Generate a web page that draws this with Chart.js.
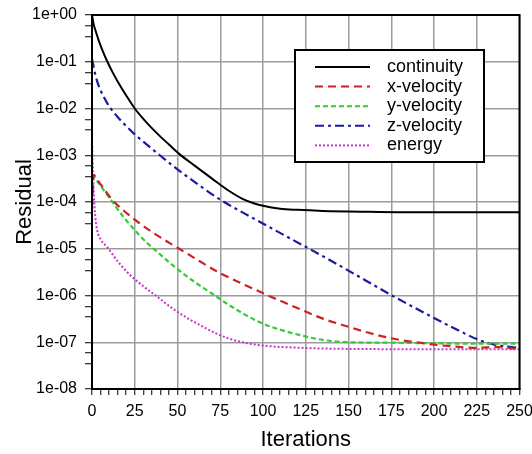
<!DOCTYPE html>
<html>
<head>
<meta charset="utf-8">
<script src="https://cdn.jsdelivr.net/npm/chart.js@4.4.0/dist/chart.umd.min.js"></script>
<style>
  html, body { margin: 0; padding: 0; background: #fff; }
</style>
</head>
<body>
<canvas id="resid" width="532" height="454"></canvas>
<script>
// residual history
var contIter = [0, 1, 2, 4, 6, 9, 12, 15, 20, 25, 30, 35, 40, 45, 51, 60, 70, 80, 88, 95, 100, 110, 120, 135, 160, 200, 250];
var contRes  = [1.0, 0.63, 0.47, 0.28, 0.18, 0.1, 0.06, 0.038, 0.019, 0.01, 0.006, 0.0038, 0.0025, 0.0017, 0.00107,
                6e-4, 3.2e-4, 1.74e-4, 1.17e-4, 9.3e-5, 8.3e-5, 7.2e-5, 6.8e-5, 6.45e-5, 6.2e-5, 6.0e-5, 6.0e-5];

var xvIter = [0, 1, 3, 6, 9, 12.5, 18, 25, 35, 45, 51, 63, 75, 88, 103, 120, 135, 150, 165, 180, 190, 200, 212, 225, 237, 250];
var xvRes  = [8e-5, 3.8e-4, 3.0e-4, 2.14e-4, 1.51e-4, 1.05e-4, 6.8e-5, 4.2e-5, 2.3e-5, 1.35e-5, 1.0e-5, 5.4e-6, 3.0e-6,
              1.78e-6, 1.0e-6, 5.4e-7, 3.2e-7, 2.14e-7, 1.48e-7, 1.12e-7, 1.0e-7, 8.9e-8, 8.1e-8, 7.6e-8, 7.9e-8, 7.1e-8];

var yvIter = [0, 1, 3, 6, 9, 12, 18, 25, 32, 38, 45, 52, 60, 71, 80, 90, 100, 110, 122, 135, 150, 175, 200, 225, 250];
var yvRes  = [6.3e-5, 3.5e-4, 2.8e-4, 2.0e-4, 1.41e-4, 1.0e-4, 5.0e-5, 2.5e-5, 1.35e-5, 8.7e-6, 5.2e-6, 3.2e-6, 1.95e-6,
              1.05e-6, 6.3e-7, 3.8e-7, 2.5e-7, 1.86e-7, 1.41e-7, 1.12e-7, 1.0e-7, 9.8e-8, 9.5e-8, 9.3e-8, 9.3e-8];

var zvIter = [0, 2, 4, 7, 10, 15, 20, 25, 30, 38, 50, 63, 75, 88, 101, 117, 139, 160, 174, 200, 215, 225, 232, 240, 250];
var zvRes  = [0.115, 0.052, 0.030, 0.0174, 0.0112, 0.0066, 0.0042, 0.0028, 0.00195, 0.00112, 5e-4, 2.24e-4, 1.12e-4,
              6.0e-5, 3.3e-5, 1.58e-5, 5.75e-6, 2.1e-6, 1.07e-6, 3.3e-7, 1.74e-7, 1.17e-7, 9.5e-8, 8.3e-8, 7.6e-8];

var enIter = [0, 1, 2, 3, 5, 9, 15, 22, 30, 38, 45, 52, 58, 65, 72, 80, 88, 100, 122, 150, 200, 250];
var enRes  = [1.9e-3, 1.6e-4, 4.5e-5, 2.5e-5, 1.6e-5, 1.07e-5, 5.4e-6, 2.8e-6, 1.58e-6, 9.5e-7, 6.0e-7, 4.0e-7, 2.95e-7,
              2.14e-7, 1.58e-7, 1.2e-7, 1.0e-7, 8.5e-8, 7.6e-8, 7.2e-8, 7.1e-8, 7.1e-8];

var seriesNames = ['continuity', 'x-velocity', 'y-velocity', 'z-velocity', 'energy'];

function pts(it, res) {
    return it.map(function (x, i) { return { x: x, y: res[i] }; });
}

var FONT = 'Liberation Sans, Arial, sans-serif';

function isDecade(v) {
    var l = Math.log10(v);
    return Math.abs(l - Math.round(l)) < 1e-6;
}

function expLabel(v) {
    var n = Math.round(Math.log10(v));
    var a = Math.abs(n);
    return '1e' + (n < 0 ? '-' : '+') + (a < 10 ? '0' : '') + a;
}

// boxed legend inside the plot, top right
var boxLegend = {
    id: 'boxLegend',
    afterDraw: function (chart) {
        var c = chart.ctx;
        var area = chart.chartArea;
        // frame around the plot
        c.save();
        c.strokeStyle = '#000';
        c.lineWidth = 2;
        c.strokeRect(area.left, area.top, area.right - area.left, area.bottom - area.top);

        var bx = 295, by = 50, bw = 189, bh = 112;
        c.fillStyle = '#fff';
        c.fillRect(bx, by, bw, bh);
        c.strokeRect(bx, by, bw, bh);
        c.font = '18px ' + FONT;
        c.textBaseline = 'middle';
        c.textAlign = 'left';
        chart.data.datasets.forEach(function (ds, i) {
            var y = by + 17 + i * 19.6;
            c.beginPath();
            c.strokeStyle = ds.borderColor;
            c.lineWidth = 2;
            c.setLineDash(ds.borderDash || []);
            c.moveTo(315, y);
            c.lineTo(370, y);
            c.stroke();
            c.setLineDash([]);
            c.fillStyle = '#000';
            c.fillText(ds.label, 387, y);
        });
        c.restore();
    }
};

var ctx = document.getElementById('resid').getContext('2d');
var residChart = new Chart(ctx, {
    type: 'line',
    data: {
        datasets: [{
            label: seriesNames[0],
            data: pts(contIter, contRes),
            borderColor: '#000000',
            borderWidth: 2
        }, {
            label: seriesNames[1],
            data: pts(xvIter, xvRes),
            borderColor: '#cc2222',
            borderWidth: 2.2,
            borderDash: [8, 5]
        }, {
            label: seriesNames[2],
            data: pts(yvIter, yvRes),
            borderColor: '#33cc33',
            borderWidth: 2.2,
            borderDash: [5, 3]
        }, {
            label: seriesNames[3],
            data: pts(zvIter, zvRes),
            borderColor: '#1a1aa0',
            borderWidth: 2.2,
            borderDash: [9, 4, 3, 4]
        }, {
            label: seriesNames[4],
            data: pts(enIter, enRes),
            borderColor: '#cc33cc',
            borderWidth: 2,
            borderDash: [2, 2]
        }]
    },
    options: {
        responsive: false,
        animation: false,
        events: [],
        layout: { padding: { left: 0, right: 12.5, top: 15, bottom: 0 } },
        elements: {
            point: { radius: 0 },
            line: { cubicInterpolationMode: 'monotone', fill: false }
        },
        plugins: {
            legend: { display: false },
            tooltip: { enabled: false }
        },
        scales: {
            x: {
                type: 'linear',
                min: 0,
                max: 250,
                afterFit: function (s) {
                    s.height = 65;
                    // let the last label run to the canvas edge, as in the original
                    s.paddingLeft = 0;
                    s.paddingRight = 0;
                },
                afterBuildTicks: function (s) {
                    var t = [];
                    for (var v = 0; v <= 250; v += 5) t.push({ value: v });
                    s.ticks = t;
                },
                ticks: {
                    autoSkip: false,
                    maxRotation: 0,
                    padding: 7,
                    color: '#000',
                    font: { family: FONT, size: 16 },
                    callback: function (v) { return v % 25 === 0 ? String(v) : ''; }
                },
                grid: {
                    color: function (c) { return c.tick && c.tick.value % 25 === 0 ? '#9c9c9c' : 'rgba(0,0,0,0)'; },
                    lineWidth: 1.5,
                    tickColor: '#000',
                    tickLength: 6,
                    tickWidth: 1
                },
                border: { color: '#000', width: 2 },
                title: {
                    display: true,
                    text: 'Iterations',
                    color: '#000',
                    font: { family: FONT, size: 22 },
                    padding: { top: 0, bottom: 1 }
                }
            },
            y: {
                type: 'logarithmic',
                min: 1e-8,
                max: 1,
                afterFit: function (s) {
                    s.width = 92;
                    s.paddingTop = 0;
                    s.paddingBottom = 0;
                },
                afterBuildTicks: function (s) {
                    var t = [];
                    for (var n = -8; n <= 0; n++) {
                        t.push({ value: Math.pow(10, n) });
                        if (n < 0) {
                            t.push({ value: Math.pow(10, n + 0.54) });
                            t.push({ value: Math.pow(10, n + 0.77) });
                        }
                    }
                    s.ticks = t;
                },
                ticks: {
                    autoSkip: false,
                    padding: 8,
                    color: '#000',
                    font: { family: FONT, size: 16 },
                    callback: function (v) { return isDecade(v) ? expLabel(v) : ''; }
                },
                grid: {
                    color: function (c) { return c.tick && isDecade(c.tick.value) ? '#9c9c9c' : 'rgba(0,0,0,0)'; },
                    lineWidth: 1.5,
                    tickColor: '#000',
                    tickLength: 7,
                    tickWidth: 1
                },
                border: { color: '#000', width: 2 },
                title: {
                    display: true,
                    text: 'Residual',
                    color: '#000',
                    font: { family: FONT, size: 22 },
                    padding: { top: 12, bottom: 0 }
                }
            }
        }
    },
    plugins: [boxLegend]
});
</script>
</body>
</html>
